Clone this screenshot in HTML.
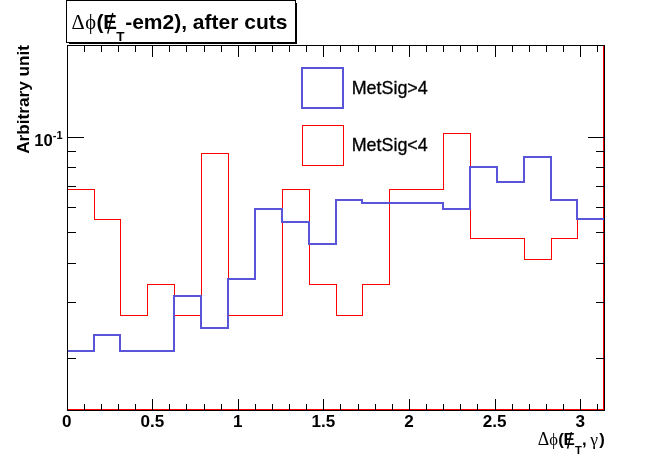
<!DOCTYPE html>
<html lang="en"><head><meta charset="utf-8"><title>Delta phi (MET - em2), after cuts</title>
<style>html,body{margin:0;padding:0;background:#fff}body{width:672px;height:456px;overflow:hidden}svg{display:block}text{font-family:"Liberation Sans",Arial,Helvetica,sans-serif;fill:#000}.b{font-weight:bold}.sym{font-family:"Liberation Serif","Times New Roman",serif;font-weight:normal}.ln{shape-rendering:crispEdges;fill:none}</style></head><body>
<svg width="672" height="456" viewBox="0 0 672 456">
<rect x="0" y="0" width="672" height="456" fill="#fff"/>
<g class="ln" stroke="#ff0000" stroke-width="1">
<path d="M67.5 409.5 L67.5 189.5 L94.5 189.5 L94.5 219.5 L120.5 219.5 L120.5 315.5 L147.5 315.5 L147.5 284.5 L174.5 284.5 L174.5 315.5 L201.5 315.5 L201.5 153.5 L228.5 153.5 L228.5 315.5 L255.5 315.5 L255.5 315.5 L282.5 315.5 L282.5 189.5 L309.5 189.5 L309.5 284.5 L336.5 284.5 L336.5 315.5 L362.5 315.5 L362.5 284.5 L389.5 284.5 L389.5 189.5 L416.5 189.5 L416.5 189.5 L443.5 189.5 L443.5 133.5 L470.5 133.5 L470.5 238.5 L497.5 238.5 L497.5 238.5 L524.5 238.5 L524.5 259.5 L551.5 259.5 L551.5 238.5 L577.5 238.5 L577.5 219.5 L603.5 219.5 L603.5 409.5"/>
<path d="M67.5 409.5 L603.5 409.5 M603.5 46 L603.5 410"/>
</g>
<g class="ln" stroke="#5954d8" stroke-width="2" stroke-linejoin="miter">
<path d="M68 351 L94 351 L94 335 L120 335 L120 351 L147 351 L147 351 L174 351 L174 296 L201 296 L201 328 L228 328 L228 279 L255 279 L255 209 L282 209 L282 222 L309 222 L309 244 L336 244 L336 200 L362 200 L362 203 L389 203 L389 203 L416 203 L416 203 L443 203 L443 209 L470 209 L470 167 L497 167 L497 182 L524 182 L524 157 L551 157 L551 200 L577 200 L577 219 L604 219"/>
</g>
<g class="ln" stroke="#000" stroke-width="1">
<path d="M67.5 45.5 H604.5 M67.5 410.5 H604.5 M67.5 45 V411 M604.5 45 V411"/>
<path d="M84.5 411 V404 M84.5 45 V52 M101.5 411 V404 M101.5 45 V52 M118.5 411 V404 M118.5 45 V52 M135.5 411 V404 M135.5 45 V52 M152.5 411 V399 M152.5 45 V57 M169.5 411 V404 M169.5 45 V52 M186.5 411 V404 M186.5 45 V52 M204.5 411 V404 M204.5 45 V52 M221.5 411 V404 M221.5 45 V52 M238.5 411 V399 M238.5 45 V57 M255.5 411 V404 M255.5 45 V52 M272.5 411 V404 M272.5 45 V52 M289.5 411 V404 M289.5 45 V52 M306.5 411 V404 M306.5 45 V52 M323.5 411 V399 M323.5 45 V57 M340.5 411 V404 M340.5 45 V52 M358.5 411 V404 M358.5 45 V52 M375.5 411 V404 M375.5 45 V52 M392.5 411 V404 M392.5 45 V52 M409.5 411 V399 M409.5 45 V57 M426.5 411 V404 M426.5 45 V52 M443.5 411 V404 M443.5 45 V52 M460.5 411 V404 M460.5 45 V52 M477.5 411 V404 M477.5 45 V52 M495.5 411 V399 M495.5 45 V57 M512.5 411 V404 M512.5 45 V52 M529.5 411 V404 M529.5 45 V52 M546.5 411 V404 M546.5 45 V52 M563.5 411 V404 M563.5 45 V52 M580.5 411 V399 M580.5 45 V57 M597.5 411 V404 M597.5 45 V52"/>
<path d="M68 137.5 H84 M604 137.5 H588 M68 151.5 H76 M604 151.5 H596 M68 167.5 H76 M604 167.5 H596 M68 186.5 H76 M604 186.5 H596 M68 207.5 H76 M604 207.5 H596 M68 232.5 H76 M604 232.5 H596 M68 263.5 H76 M604 263.5 H596 M68 302.5 H76 M604 302.5 H596 M68 358.5 H76 M604 358.5 H596"/>
</g>
<g class="ln">
<rect x="69" y="3" width="228" height="41" fill="#000" stroke="none"/>
<rect x="66.5" y="0.5" width="229" height="42" fill="#fff" stroke="#000" stroke-width="1"/>
</g>
<text class="b" x="71.6" y="29.0" font-size="21"><tspan class="sym" font-size="20.5">Δ</tspan><tspan class="sym" font-size="20.5" x="85.3">ϕ</tspan><tspan x="96.5" y="28.8">(</tspan><tspan x="103.3" y="28.7" font-size="20.5">E</tspan><tspan x="116.3" y="40.6" font-size="13.5">T</tspan><tspan x="125.2" y="28.7">-em2), after cuts</tspan></text>
<path d="M112.8 13.0 L107.7 33.6" stroke="#000" stroke-width="1.4" fill="none"/>
<g class="ln"><rect x="302" y="68" width="41" height="40" stroke="#5954d8" stroke-width="2"/>
<rect x="302.5" y="125.5" width="41" height="40" stroke="#ff0000" stroke-width="1"/></g>
<text x="351.7" y="94.1" font-size="17.9" stroke="#000" stroke-width="0.3">MetSig&gt;4</text>
<text x="351.7" y="150.9" font-size="17.9" stroke="#000" stroke-width="0.3">MetSig&lt;4</text>
<text class="b" x="66.70" y="427" font-size="17.1" text-anchor="middle">0</text>
<text class="b" x="152.28" y="427" font-size="17.1" text-anchor="middle">0.5</text>
<text class="b" x="237.85" y="427" font-size="17.1" text-anchor="middle">1</text>
<text class="b" x="323.43" y="427" font-size="17.1" text-anchor="middle">1.5</text>
<text class="b" x="409.00" y="427" font-size="17.1" text-anchor="middle">2</text>
<text class="b" x="494.57" y="427" font-size="17.1" text-anchor="middle">2.5</text>
<text class="b" x="580.15" y="427" font-size="17.1" text-anchor="middle">3</text>
<text class="b" x="34.3" y="145.7" font-size="16.6">10<tspan dx="0.1" dy="-6.6" font-size="11">-1</tspan></text>
<text class="b" transform="translate(29.2,153.8) rotate(-90)" font-size="17.2">Arbitrary unit</text>
<text class="b" x="537.8" y="444.6" font-size="16.6"><tspan class="sym" font-size="17.8">Δ</tspan><tspan class="sym" font-size="16.6" x="549.2">ϕ</tspan><tspan x="558.2">(</tspan><tspan x="563.5" font-size="17">E</tspan><tspan x="575.0" y="453.7" font-size="11.2">T</tspan><tspan x="582" y="444.6" font-size="16.6">,</tspan><tspan class="sym" x="590.3" font-size="17.6">γ</tspan><tspan x="599.2" font-size="16.6">)</tspan></text>
<path d="M571.4 432.2 L567.6 448.7" stroke="#000" stroke-width="1.5" fill="none"/>
</svg></body></html>
